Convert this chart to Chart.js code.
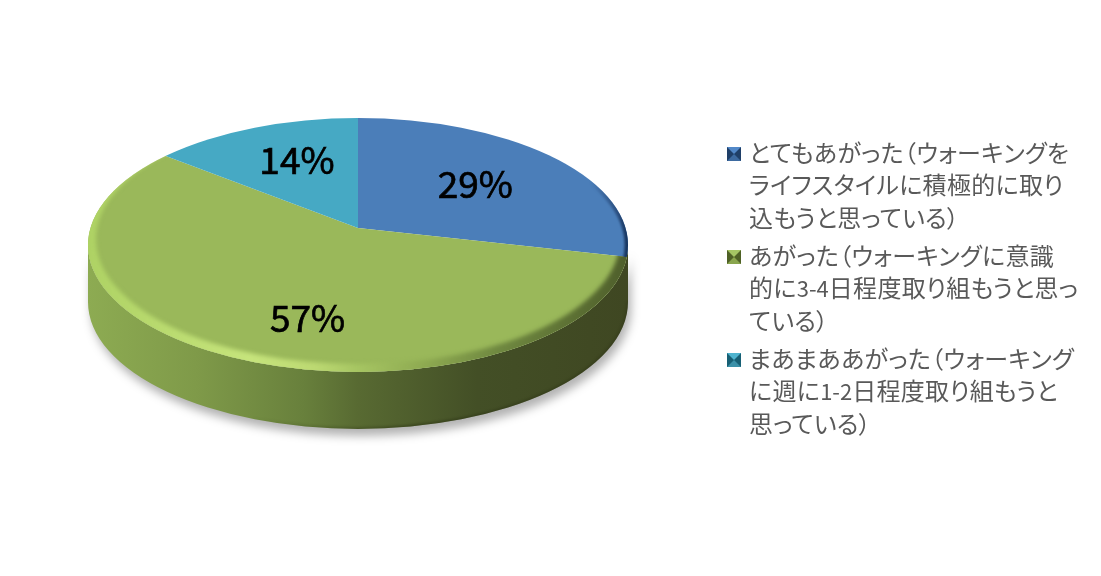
<!DOCTYPE html>
<html>
<head>
<meta charset="utf-8">
<script src="https://cdn.jsdelivr.net/npm/chart.js@4"></script>
<style>
  html, body { margin: 0; padding: 0; background: #fff; }
  #wrap { position: relative; width: 1101px; height: 576px; overflow: hidden; }
  #chart { position: absolute; left: 0; top: 0; }
  .leg-mark { position: absolute; left: 727px; width: 0; height: 0; border-style: solid; border-width: 7.5px; }
  .leg-text { position: absolute; left: 749px; color: #595959; font: 24px/32.3px "Noto Sans CJK JP", sans-serif;
              font-feature-settings: "palt"; letter-spacing: 0.3px; white-space: nowrap; }
  .leg-text span { font-size: 22px; letter-spacing: 0; }
</style>
</head>
<body>
<div id="wrap">
  <canvas id="chart" width="1101" height="576"></canvas>
  <div id="legend"></div>
</div>
<script>
  const categories = [
    ['とてもあがった（ウォーキングを', 'ライフスタイルに積極的に取り', '込もうと思っている）'],
    ['あがった（ウォーキングに意識', '的に3-4日程度取り組もうと思っ', 'ている）'],
    ['まあまああがった（ウォーキング', 'に週に1-2日程度取り組もうと', '思っている）']
  ];
  const answers = [2, 4, 1];
  const sliceColors = ['#4b7eb9', '#9ab85a', '#46a9c4'];
  const markColors = [['#5288c8', '#1f3f68', '#3d6aa0'], ['#a5c564', '#4f6126', '#8aa64e'], ['#4fb4cf', '#175f74', '#3b90a8']];

  // ---- geometry of the tilted disc ------------------------------------------

  const apexX = 358, apexY = 228;   // where the wedges meet
  const discX = 358, discY = 245;   // centre of the top ellipse
  const rx = 270, ry = 127;
  const tilt = 0.47;
  const depth = 57;

  const labelRadius = [150, 213, 150];
  const labelNudge = [[0, 0], [42, 0], [4, -5]];

  function discClip(ctx) {
    ctx.beginPath();
    ctx.ellipse(discX, discY, rx, ry, 0, 0, Math.PI * 2);
    ctx.clip();
  }

  function hGradient(ctx, stops) {
    const g = ctx.createLinearGradient(discX - rx, 0, discX + rx, 0);
    stops.forEach(([p, c]) => g.addColorStop(p, c));
    return g;
  }

  const disc3d = {
    id: 'disc3d',
    beforeDatasetsDraw(chart) {
      const ctx = chart.ctx;
      const arc = chart.getDatasetMeta(0).data[0];

      const wallPath = () => {
        ctx.beginPath();
        ctx.ellipse(discX, discY, rx, ry, 0, Math.PI, 0, true);
        ctx.lineTo(discX + rx, discY + depth);
        ctx.ellipse(discX, discY + depth, rx, ry, 0, 0, Math.PI);
        ctx.closePath();
      };

      // side wall with its soft shadow
      ctx.save();
      ctx.shadowColor = 'rgba(0,0,0,0.3)';
      ctx.shadowBlur = 10;
      ctx.shadowOffsetX = 3;
      ctx.shadowOffsetY = 7;
      ctx.fillStyle = hGradient(ctx, [[0, '#8dab52'], [0.2, '#7f9a49'], [0.4, '#68803c'],
                                      [0.5, '#586a32'], [0.72, '#434f26'], [1, '#3f4722']]);
      wallPath();
      ctx.fill();
      ctx.restore();

      // darker lip at the bottom of the wall, only towards the right
      ctx.save();
      wallPath();
      ctx.clip();
      ctx.strokeStyle = hGradient(ctx, [[0.3, 'rgba(30,35,10,0)'], [0.6, 'rgba(30,35,10,0.35)'], [1, 'rgba(30,35,10,0.2)']]);
      ctx.lineWidth = 4;
      ctx.filter = 'blur(1px)';
      ctx.beginPath();
      ctx.ellipse(discX, discY + depth, rx, ry, 0, 0, Math.PI);
      ctx.stroke();
      ctx.restore();

      // wedges: squash the circle, clip it to the perspective ellipse
      ctx.save();
      discClip(ctx);
      ctx.translate(apexX, apexY);
      ctx.scale(1, tilt);
      ctx.translate(-arc.x, -arc.y);
    },
    afterDatasetsDraw(chart) {
      const ctx = chart.ctx;
      const meta = chart.getDatasetMeta(0);
      ctx.restore();

      // bevel on the green slice: a crescent, thin up the left side, wide at the front
      ctx.save();
      discClip(ctx);
      const green = meta.data[1];
      ctx.save();
      ctx.translate(apexX, apexY);
      ctx.scale(1, tilt);
      ctx.beginPath();
      ctx.moveTo(0, 0);
      ctx.arc(0, 0, 320, green.startAngle, green.endAngle);
      ctx.closePath();
      ctx.restore();
      ctx.clip();
      ctx.fillStyle = hGradient(ctx, [[0, '#aed264'], [0.3, '#c6e47c'], [0.42, '#bcd972'], [0.5, '#a6c562'],
                                      [0.63, '#8ca850'], [0.76, '#6f8840'], [0.95, '#55672f'], [1, '#4f5f2c']]);
      ctx.filter = 'blur(2px)';
      ctx.beginPath();
      ctx.rect(60, 90, 600, 320);
      ctx.ellipse(discX, discY - 6, rx - 8, ry - 2, 0, 0, Math.PI * 2);
      ctx.fill('evenodd');
      ctx.restore();

      // dark corner where the blue slice meets the wall
      ctx.save();
      discClip(ctx);
      ctx.beginPath();
      ctx.rect(560, 100, 80, 157);
      ctx.clip();
      ctx.strokeStyle = hGradient(ctx, [[0.93, 'rgba(30,60,105,0)'], [0.98, 'rgba(30,60,105,0.7)'], [1, '#16335c']]);
      ctx.lineWidth = 7;
      ctx.filter = 'blur(1px)';
      ctx.beginPath();
      ctx.ellipse(discX, discY, rx, ry, 0, 0, Math.PI * 2);
      ctx.stroke();
      ctx.restore();

      // percent labels
      const total = answers.reduce((s, v) => s + v, 0);
      ctx.save();
      ctx.fillStyle = '#000';
      ctx.strokeStyle = '#000';
      ctx.lineWidth = 0.7;
      ctx.font = '400 37px "Noto Sans CJK JP", sans-serif';
      ctx.textAlign = 'center';
      ctx.textBaseline = 'middle';
      meta.data.forEach((a, i) => {
        const mid = (a.startAngle + a.endAngle) / 2;
        const x = apexX + labelRadius[i] * Math.cos(mid) + labelNudge[i][0];
        const y = apexY + tilt * labelRadius[i] * Math.sin(mid) + labelNudge[i][1];
        const txt = Math.round(answers[i] / total * 100) + '%';
        ctx.fillText(txt, x, y);
        ctx.strokeText(txt, x, y);
      });
      ctx.restore();
    }
  };

  new Chart(document.getElementById('chart'), {
    type: 'pie',
    data: {
      labels: categories.map(c => c.join('')),
      datasets: [{ data: answers, backgroundColor: sliceColors, borderWidth: 0, radius: 320, clip: false }]
    },
    options: {
      responsive: false,
      animation: false,
      devicePixelRatio: 1,
      layout: { padding: { right: 385, bottom: 120 } },
      events: [],
      plugins: { legend: { display: false }, tooltip: { enabled: false } }
    },
    plugins: [disc3d]
  });

  // ---- legend ---------------------------------------------------------------

  const legendTops = [147, 250, 353];
  document.getElementById('legend').innerHTML = categories.map((lines, i) => {
    const [top, side, bottom] = markColors[i];
    const text = lines.join('<br>').replace(/\d-\d/g, m => `<span>${m}</span>`);
    return `<div class="leg-mark" style="top:${legendTops[i]}px;border-color:${top} ${side} ${bottom} ${side}"></div>
      <div class="leg-text" style="top:${legendTops[i] - 11}px">${text}</div>`;
  }).join('');
</script>
</body>
</html>
